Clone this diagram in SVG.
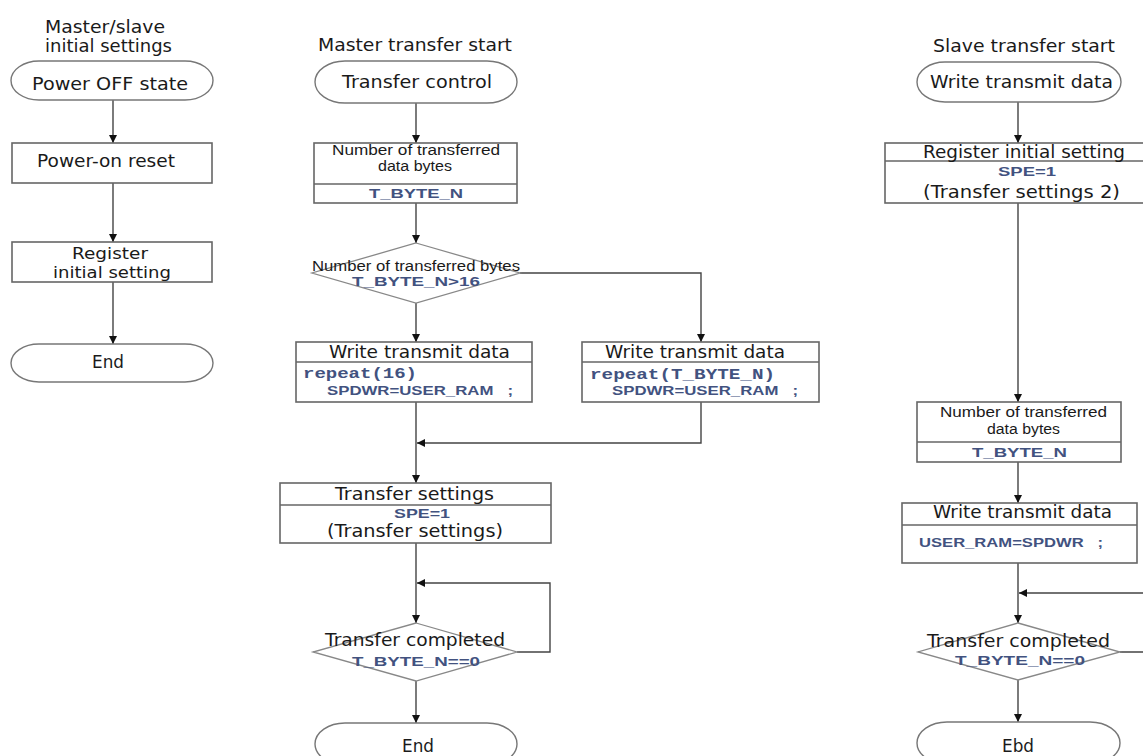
<svg xmlns="http://www.w3.org/2000/svg" width="1143" height="756" viewBox="0 0 1143 756">
  <style>
    .bg { fill: #ffffff; }
    .term { fill: #ffffff; stroke: #777; stroke-width: 1.4; }
    .box { fill: #ffffff; stroke: #666; stroke-width: 1.6; }
    .div { stroke: #666; stroke-width: 1.4; fill: none; }
    .dia { fill: #ffffff; stroke: #888; stroke-width: 1.3; }
    .edge { fill: none; stroke: #444; stroke-width: 1.4; }
    .t { font-family: "DejaVu Sans", "Liberation Sans", sans-serif; font-size: 17px; fill: #1a1a1a; }
    .t2 { font-family: "DejaVu Sans", "Liberation Sans", sans-serif; font-size: 15.5px; fill: #1a1a1a; }
    .s { font-family: "Liberation Sans", "DejaVu Sans", sans-serif; font-size: 14px; fill: #1a1a1a; }
    .v { font-family: "Liberation Sans", sans-serif; font-size: 13px; font-weight: bold; fill: #42527f; }
    .m { font-family: "Liberation Mono", monospace; font-size: 14px; font-weight: bold; fill: #42527f; }
  </style>
  <defs>
    <marker id="arr" markerUnits="userSpaceOnUse" markerWidth="10" markerHeight="10" viewBox="0 0 10 10" refX="9" refY="5" orient="auto">
      <path d="M1,1 L9,5 L1,9 Z" fill="#111"/>
    </marker>
  </defs>
  <rect class="bg" x="0" y="0" width="1143" height="756"/>

  <!-- connectors -->
  <g id="connectors">
    <path class="edge" d="M113,100 V143" marker-end="url(#arr)"/>
    <path class="edge" d="M113,183 V242" marker-end="url(#arr)"/>
    <path class="edge" d="M113,282 V344" marker-end="url(#arr)"/>

    <path class="edge" d="M416,103 V143" marker-end="url(#arr)"/>
    <path class="edge" d="M416,203 V243" marker-end="url(#arr)"/>
    <path class="edge" d="M520,273 H701 V342" marker-end="url(#arr)"/>
    <path class="edge" d="M416,303 V342" marker-end="url(#arr)"/>
    <path class="edge" d="M701,402 V443 H417" marker-end="url(#arr)"/>
    <path class="edge" d="M416,402 V483" marker-end="url(#arr)"/>
    <path class="edge" d="M416,543 V623" marker-end="url(#arr)"/>
    <path class="edge" d="M517,652 H550 V583 H417" marker-end="url(#arr)"/>
    <path class="edge" d="M416,681 V723" marker-end="url(#arr)"/>

    <path class="edge" d="M1018,102 V143" marker-end="url(#arr)"/>
    <path class="edge" d="M1018,203 V402" marker-end="url(#arr)"/>
    <path class="edge" d="M1018,462 V503" marker-end="url(#arr)"/>
    <path class="edge" d="M1018,563 V623" marker-end="url(#arr)"/>
    <path class="edge" d="M1120,652 H1152 V593 H1019" marker-end="url(#arr)"/>
    <path class="edge" d="M1018,680 V722" marker-end="url(#arr)"/>
  </g>

  <!-- initial settings column -->
  <g id="init-title">
    <text class="t" x="45" y="33" textLength="120" lengthAdjust="spacingAndGlyphs">Master/slave</text>
    <text class="t" x="45" y="52" textLength="127" lengthAdjust="spacingAndGlyphs">initial settings</text>
  </g>
  <g id="power-off">
    <rect class="term" x="11" y="61" width="202" height="39" rx="28" ry="19.5"/>
    <text class="t" x="32" y="90" textLength="156" lengthAdjust="spacingAndGlyphs">Power OFF state</text>
  </g>
  <g id="power-on-reset">
    <rect class="box" x="12" y="143" width="200" height="40"/>
    <text class="t" x="37" y="167" textLength="138" lengthAdjust="spacingAndGlyphs">Power-on reset</text>
  </g>
  <g id="register-init">
    <rect class="box" x="12" y="242" width="200" height="40"/>
    <text class="t2" x="72" y="259" textLength="76" lengthAdjust="spacingAndGlyphs">Register</text>
    <text class="t2" x="53" y="278" textLength="118" lengthAdjust="spacingAndGlyphs">initial setting</text>
  </g>
  <g id="init-end">
    <rect class="term" x="11" y="344" width="202" height="38" rx="28" ry="19"/>
    <text class="t" x="92" y="368" textLength="32" lengthAdjust="spacingAndGlyphs">End</text>
  </g>

  <!-- master transfer column -->
  <g id="master-title">
    <text class="t" x="318" y="51" textLength="194" lengthAdjust="spacingAndGlyphs">Master transfer start</text>
  </g>
  <g id="transfer-control">
    <rect class="term" x="315" y="61" width="202" height="42" rx="30" ry="21"/>
    <text class="t" x="342" y="88" textLength="150" lengthAdjust="spacingAndGlyphs">Transfer control</text>
  </g>
  <g id="master-byte-count">
    <rect class="box" x="314" y="143" width="203" height="60"/>
    <line class="div" x1="314" y1="184" x2="517" y2="184"/>
    <text class="s" x="332" y="155" textLength="168" lengthAdjust="spacingAndGlyphs">Number of transferred</text>
    <text class="s" x="378" y="171" textLength="74" lengthAdjust="spacingAndGlyphs">data bytes</text>
    <text class="v" x="369" y="198" textLength="94" lengthAdjust="spacingAndGlyphs">T_BYTE_N</text>
  </g>
  <g id="master-size-check">
    <polygon class="dia" points="416,243 520,273 416,303 312,273"/>
    <text class="s" x="312" y="271" textLength="208" lengthAdjust="spacingAndGlyphs">Number of transferred bytes</text>
    <text class="v" x="352" y="286" textLength="128" lengthAdjust="spacingAndGlyphs">T_BYTE_N&gt;16</text>
  </g>
  <g id="master-write-16">
    <rect class="box" x="296" y="342" width="236" height="60"/>
    <line class="div" x1="296" y1="362" x2="532" y2="362"/>
    <text class="t" x="329" y="358" textLength="181" lengthAdjust="spacingAndGlyphs">Write transmit data</text>
    <text class="m" x="303" y="378" textLength="114" lengthAdjust="spacingAndGlyphs">repeat(16)</text>
    <text class="v" x="327" y="395" textLength="186" lengthAdjust="spacingAndGlyphs">SPDWR=USER_RAM&#160;&#160;&#160;;</text>
  </g>
  <g id="master-write-n">
    <rect class="box" x="582" y="342" width="237" height="60"/>
    <line class="div" x1="582" y1="362" x2="819" y2="362"/>
    <text class="t" x="605" y="358" textLength="180" lengthAdjust="spacingAndGlyphs">Write transmit data</text>
    <text class="m" x="590" y="379" textLength="185" lengthAdjust="spacingAndGlyphs">repeat(T_BYTE_N)</text>
    <text class="v" x="612" y="395" textLength="186" lengthAdjust="spacingAndGlyphs">SPDWR=USER_RAM&#160;&#160;&#160;;</text>
  </g>
  <g id="master-transfer-settings">
    <rect class="box" x="280" y="483" width="271" height="60"/>
    <line class="div" x1="280" y1="505" x2="551" y2="505"/>
    <text class="t" x="335" y="500" textLength="159" lengthAdjust="spacingAndGlyphs">Transfer settings</text>
    <text class="v" x="394" y="518" textLength="56" lengthAdjust="spacingAndGlyphs">SPE=1</text>
    <text class="t" x="327" y="537" textLength="176" lengthAdjust="spacingAndGlyphs">(Transfer settings)</text>
  </g>
  <g id="master-done-check">
    <polygon class="dia" points="416,623 517,652 416,681 313,652"/>
    <text class="t" x="325" y="646" textLength="180" lengthAdjust="spacingAndGlyphs">Transfer completed</text>
    <text class="v" x="352" y="666" textLength="128" lengthAdjust="spacingAndGlyphs">T_BYTE_N==0</text>
  </g>
  <g id="master-end">
    <rect class="term" x="315" y="723" width="202" height="42" rx="30" ry="21"/>
    <text class="t" x="402" y="752" textLength="32" lengthAdjust="spacingAndGlyphs">End</text>
  </g>

  <!-- slave transfer column -->
  <g id="slave-title">
    <text class="t" x="933" y="52" textLength="182" lengthAdjust="spacingAndGlyphs">Slave transfer start</text>
  </g>
  <g id="slave-start">
    <rect class="term" x="917" y="62" width="204" height="40" rx="28" ry="20"/>
    <text class="t" x="930" y="88" textLength="183" lengthAdjust="spacingAndGlyphs">Write transmit data</text>
  </g>
  <g id="slave-register-init">
    <rect class="box" x="885" y="143" width="290" height="60"/>
    <line class="div" x1="885" y1="161" x2="1175" y2="161"/>
    <text class="t" x="923" y="158" textLength="202" lengthAdjust="spacingAndGlyphs">Register initial setting</text>
    <text class="v" x="998" y="176" textLength="58" lengthAdjust="spacingAndGlyphs">SPE=1</text>
    <text class="t" x="923" y="198" textLength="197" lengthAdjust="spacingAndGlyphs">(Transfer settings 2)</text>
  </g>
  <g id="slave-byte-count">
    <rect class="box" x="917" y="402" width="204" height="60"/>
    <line class="div" x1="917" y1="442" x2="1121" y2="442"/>
    <text class="s" x="940" y="417" textLength="167" lengthAdjust="spacingAndGlyphs">Number of transferred</text>
    <text class="s" x="987" y="434" textLength="73" lengthAdjust="spacingAndGlyphs">data bytes</text>
    <text class="v" x="972" y="457" textLength="95" lengthAdjust="spacingAndGlyphs">T_BYTE_N</text>
  </g>
  <g id="slave-read">
    <rect class="box" x="902" y="503" width="235" height="60"/>
    <line class="div" x1="902" y1="525" x2="1137" y2="525"/>
    <text class="t" x="933" y="518" textLength="179" lengthAdjust="spacingAndGlyphs">Write transmit data</text>
    <text class="v" x="919" y="547" textLength="184" lengthAdjust="spacingAndGlyphs">USER_RAM=SPDWR&#160;&#160;&#160;;</text>
  </g>
  <g id="slave-done-check">
    <polygon class="dia" points="1018,623 1120,652 1018,680 918,652"/>
    <text class="t" x="927" y="647" textLength="183" lengthAdjust="spacingAndGlyphs">Transfer completed</text>
    <text class="v" x="955" y="665" textLength="130" lengthAdjust="spacingAndGlyphs">T_BYTE_N==0</text>
  </g>
  <g id="slave-end">
    <rect class="term" x="917" y="722" width="203" height="42" rx="30" ry="21"/>
    <text class="t" x="1002" y="752" textLength="32" lengthAdjust="spacingAndGlyphs">Ebd</text>
  </g>
</svg>
